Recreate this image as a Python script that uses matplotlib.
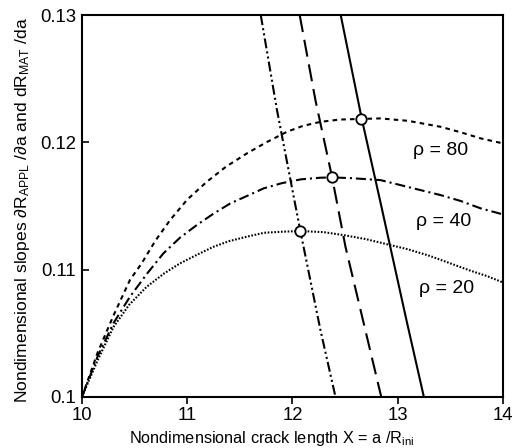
import matplotlib.pyplot as plt

plt.rcParams['font.family'] = ['Liberation Sans', 'DejaVu Sans']
plt.rcParams['mathtext.fontset'] = 'custom'
plt.rcParams['mathtext.rm'] = 'Liberation Sans'
plt.rcParams['mathtext.it'] = 'Liberation Sans:italic'

# applied-load slope curves
x_r80 = [10.0, 10.15, 10.3, 10.457, 10.568, 10.7, 10.838, 11.0, 11.187, 11.37, 11.568, 11.75,
         11.949, 12.1, 12.267, 12.45, 12.648, 12.838, 13.1, 13.41, 13.6, 13.79, 14.0]
y_r80 = [0.1, 0.1035, 0.1064, 0.1092, 0.1105, 0.1123, 0.1139, 0.1155, 0.11691, 0.1181, 0.11914, 0.1200,
         0.12084, 0.1213, 0.12162, 0.1218, 0.12185, 0.12189, 0.1217, 0.12123, 0.1208, 0.12032, 0.11993]

x_r40 = [10.0, 10.15, 10.3, 10.457, 10.62, 10.774, 10.93, 11.092, 11.25, 11.41, 11.57, 11.727,
         11.9, 12.08, 12.267, 12.378, 12.55, 12.838, 13.1, 13.41, 13.6, 13.79, 14.0]
y_r40 = [0.1, 0.1032, 0.1058, 0.10788, 0.1097, 0.11128, 0.1125, 0.11351, 0.1144, 0.11521, 0.1158, 0.11639,
         0.1168, 0.1171, 0.11723, 0.11725, 0.1172, 0.11704, 0.1165, 0.11586, 0.1154, 0.11482, 0.11435]

x_r20 = [10.0, 10.15, 10.3, 10.45, 10.616, 10.78, 10.933, 11.1, 11.25, 11.4, 11.57, 11.73,
         11.89, 12.076, 12.3, 12.5, 12.7, 12.9, 13.1, 13.3, 13.5, 13.7, 13.85, 14.0]
y_r20 = [0.1, 0.1029, 0.1055, 0.10725, 0.10866, 0.1097, 0.1105, 0.1112, 0.1118, 0.11225, 0.1126, 0.1129,
         0.11298, 0.11304, 0.11295, 0.1127, 0.1124, 0.1120, 0.1116, 0.1111, 0.1105, 0.1099, 0.1095, 0.1090]

# material slope lines
y_mat = [0.13, 0.12185, 0.1152, 0.1062, 0.1]
x_mat_solid = [12.46, 12.66, 12.84, 13.08, 13.25]
y_mat_dash = [0.13, 0.1233, 0.11725, 0.1118, 0.1]
x_mat_dash = [12.07, 12.22, 12.378, 12.505, 12.845]
y_mat_dd = [0.13, 0.12254, 0.11304, 0.10526, 0.1]
x_mat_dd = [11.70, 11.854, 12.076, 12.267, 12.41]

# tangency points
circ_x = [12.648, 12.378, 12.076]
circ_y = [0.12185, 0.11725, 0.11304]

rho_labels = ['ρ = 80', 'ρ = 40', 'ρ = 20']
rho_pos_x = [13.41, 13.44, 13.47]
rho_pos_y = [0.1194, 0.11377, 0.10854]

xticks = [10, 11, 12, 13, 14]
yticks = [0.1, 0.11, 0.12, 0.13]
ytick_labels = ['0.1', '0.11', '0.12', '0.13']

fig = plt.figure(figsize=(5.12, 4.48), dpi=100)
ax = fig.add_axes([0.160, 0.114, 0.822, 0.852])

lw = 1.5
ax.plot(x_r80, y_r80, color='black', lw=lw, dashes=(2.2, 2.0))
ax.plot(x_r40, y_r40, color='black', lw=lw, dashes=(4.8, 1.9, 1.0, 1.9))
ax.plot(x_r20, y_r20, color='black', lw=lw, dashes=(0.8, 0.8))

ax.plot(x_mat_solid, y_mat, color='black', lw=lw)
ax.plot(x_mat_dash, y_mat_dash, color='black', lw=lw, dashes=(8.2, 3.8))
ax.plot(x_mat_dd, y_mat_dd, color='black', lw=lw, dashes=(4.8, 1.5, 1.0, 1.5, 1.0, 1.5))

ax.plot(circ_x, circ_y, 'o', ms=7.5, mfc='white', mec='black', mew=1.3, zorder=5)

for lab, tx, ty in zip(rho_labels, rho_pos_x, rho_pos_y):
    ax.text(tx, ty, lab, fontsize=14, ha='center', va='center')

ax.set_xlim(10, 14)
ax.set_ylim(0.1, 0.13)
ax.set_xticks(xticks)
ax.set_yticks(yticks)
ax.set_yticklabels(ytick_labels)
ax.tick_params(axis='x', direction='out', length=5, width=1.2, labelsize=13.3, pad=2)
ax.tick_params(axis='y', direction='in', length=5, width=1.2, labelsize=13.3, pad=4)
for sp in ax.spines.values():
    sp.set_linewidth(1.5)

ax.set_xlabel(r'Nondimensional crack length X = a /R$_{\rm ini}$', fontsize=11.7)
ax.set_ylabel(r'Nondimensional slopes ∂R$_{\rm APPL}$ /∂a and dR$_{\rm MAT}$ /da', fontsize=12.6)
ax.xaxis.set_label_coords(0.451, -0.085)
ax.yaxis.set_label_coords(-0.118, 0.49)

fig.savefig('out.png', dpi=100)
